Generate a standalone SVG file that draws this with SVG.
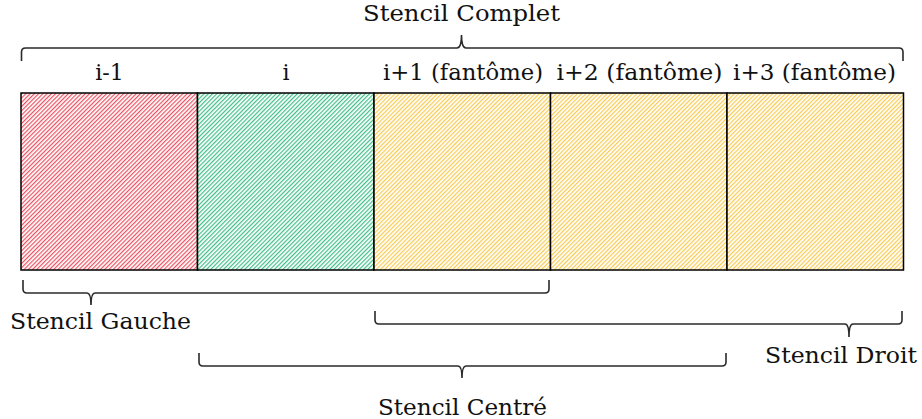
<svg xmlns="http://www.w3.org/2000/svg" width="922" height="419" viewBox="0 0 922 419">
<defs>
<pattern id="hRed" patternUnits="userSpaceOnUse" width="3" height="3" patternTransform="rotate(45)"><rect width="3" height="3" fill="#fff"/><rect width="1.2" height="3" fill="#ec5060"/></pattern>
<pattern id="hGreen" patternUnits="userSpaceOnUse" width="3" height="3" patternTransform="rotate(45)"><rect width="3" height="3" fill="#fff"/><rect width="1.2" height="3" fill="#40be88"/></pattern>
<pattern id="hYellow" patternUnits="userSpaceOnUse" width="3" height="3" patternTransform="rotate(45)"><rect width="3" height="3" fill="#fff"/><rect width="1.2" height="3" fill="#f8ca50"/></pattern>
</defs>
<style>
text{font-family:"DejaVu Serif","Liberation Serif",serif;fill:#111;text-anchor:middle}
.lab{font-size:22px}
.cell{stroke:#000;stroke-width:1.5}
.brace{fill:none;stroke:#2a2a2a;stroke-width:1.6}
</style>
<rect width="922" height="419" fill="#fff"/>
<g id="cell-im1"><rect class="cell" x="21" y="93" width="176.5" height="177" fill="url(#hRed)"/><text class="lab" x="109.5" y="80">i-1</text></g>
<g id="cell-i"><rect class="cell" x="197.5" y="93" width="176.5" height="177" fill="url(#hGreen)"/><text class="lab" x="286" y="80">i</text></g>
<g id="cell-ip1"><rect class="cell" x="374" y="93" width="176.5" height="177" fill="url(#hYellow)"/><text class="lab" x="463" y="80" textLength="160" lengthAdjust="spacingAndGlyphs">i+1 (fantôme)</text></g>
<g id="cell-ip2"><rect class="cell" x="550.5" y="93" width="176.5" height="177" fill="url(#hYellow)"/><text class="lab" x="639.5" y="80" textLength="166" lengthAdjust="spacingAndGlyphs">i+2 (fantôme)</text></g>
<g id="cell-ip3"><rect class="cell" x="727" y="93" width="176.5" height="177" fill="url(#hYellow)"/><text class="lab" x="814.5" y="80" textLength="163" lengthAdjust="spacingAndGlyphs">i+3 (fantôme)</text></g>
<g id="connectors">
<path class="brace" d="M21.5,61 L21.5,52 Q21.5,48 25.5,48 L457,48 Q461.5,48 461.5,35 Q461.5,48 466,48 L899,48 Q903,48 903,52 L903,61"/>
<path class="brace" d="M23,280 L23,289 Q23,293 27,293 L87,293 Q91,293 91,305 Q91,293 95,293 L545,293 Q549,293 549,289 L549,280"/>
<path class="brace" d="M375,311 L375,320 Q375,324 379,324 L845,324 Q849,324 849,337 Q849,324 853,324 L898,324 Q902,324 902,320 L902,311"/>
<path class="brace" d="M199,353 L199,362 Q199,366 203,366 L458,366 Q462,366 462,378 Q462,366 466,366 L722,366 Q726,366 726,362 L726,353"/>
</g>
<g id="label-complet"><text class="lab" x="461.5" y="21" textLength="197" lengthAdjust="spacingAndGlyphs">Stencil Complet</text></g>
<g id="label-gauche"><text class="lab" x="100.5" y="329" textLength="181" lengthAdjust="spacingAndGlyphs">Stencil Gauche</text></g>
<g id="label-droit"><text class="lab" x="841" y="363" textLength="152" lengthAdjust="spacingAndGlyphs">Stencil Droit</text></g>
<g id="label-centre"><text class="lab" x="462.5" y="415" textLength="169" lengthAdjust="spacingAndGlyphs">Stencil Centré</text></g>
</svg>
